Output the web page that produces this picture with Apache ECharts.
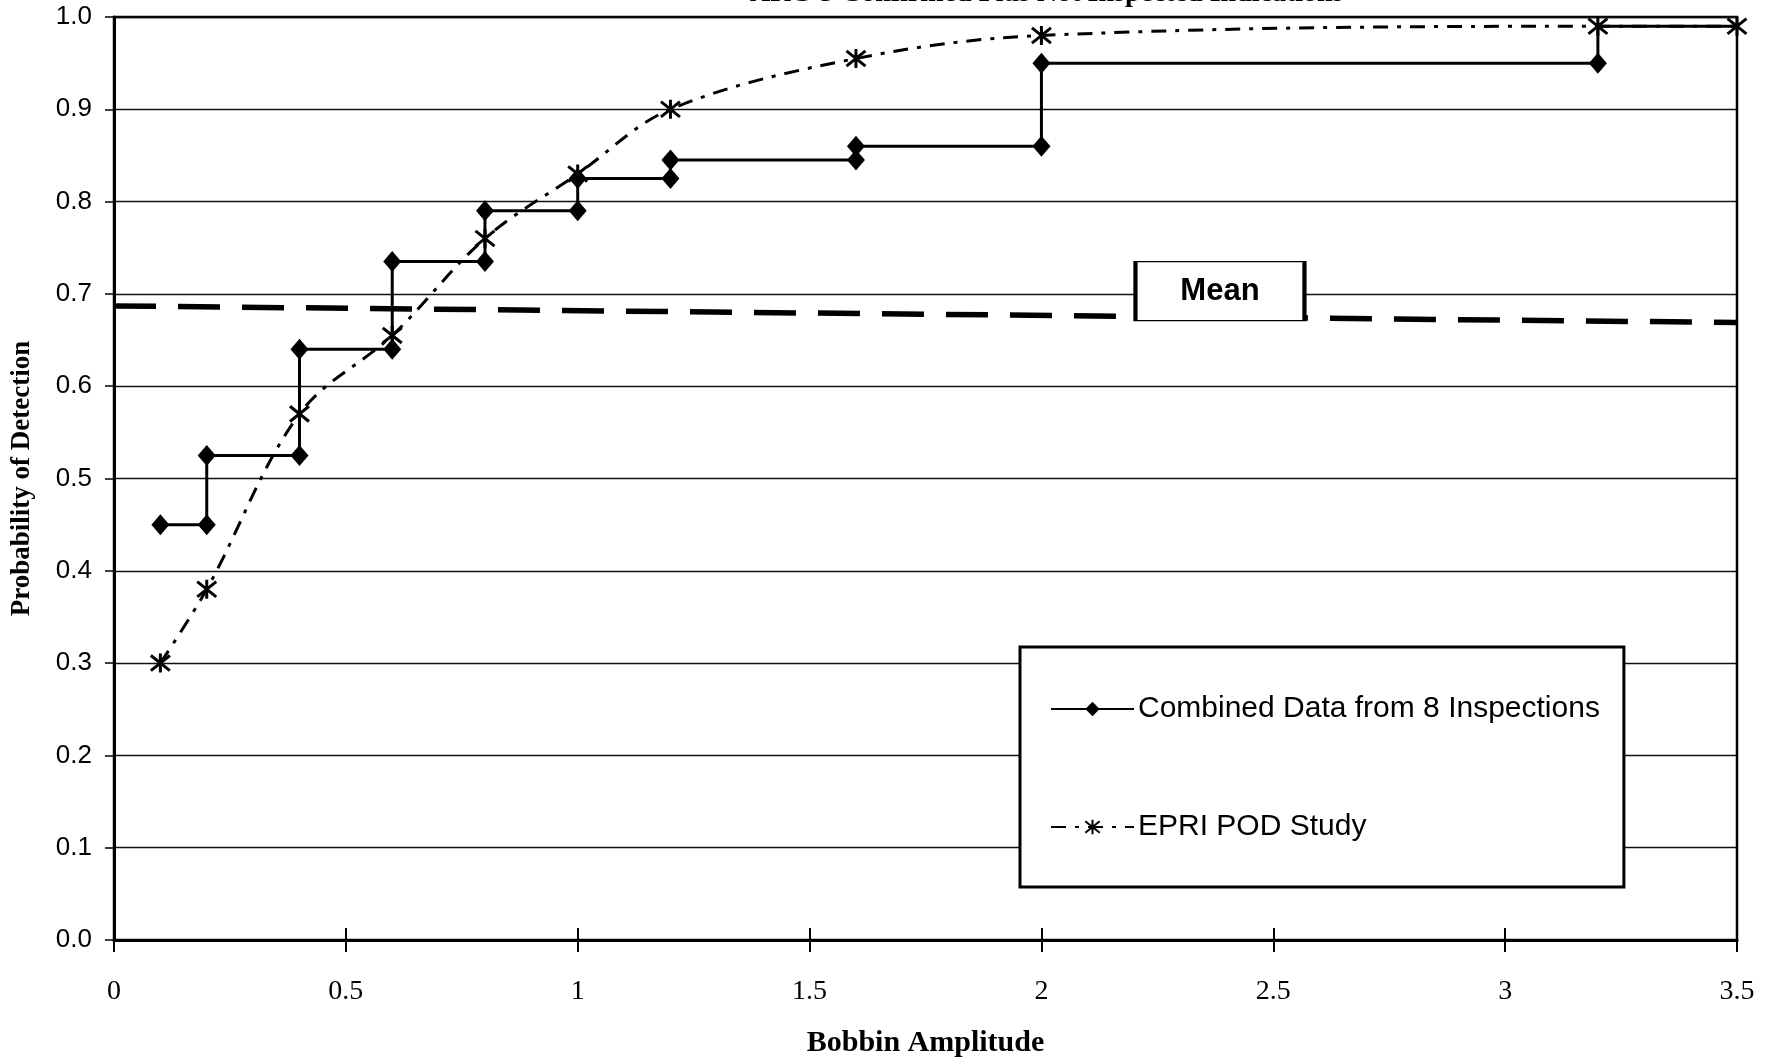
<!DOCTYPE html>
<html>
<head>
<meta charset="utf-8">
<script src="https://cdn.jsdelivr.net/npm/echarts@6/dist/echarts.min.js"></script>
<style>
  html, body { margin: 0; padding: 0; background: #fff; }
  #main { width: 1771px; height: 1064px; }
</style>
</head>
<body>
<div id="main"></div>
<script>
// step curve, combined inspections
var xCombined = [0.1, 0.2, 0.2, 0.4, 0.4, 0.6, 0.6, 0.8, 0.8, 1.0, 1.0, 1.2, 1.2, 1.6, 1.6, 2.0, 2.0, 3.2, 3.2, 3.5];
var yCombined = [0.45, 0.45, 0.525, 0.525, 0.64, 0.64, 0.735, 0.735, 0.79, 0.79, 0.825, 0.825, 0.845, 0.845, 0.86, 0.86, 0.95, 0.95, 0.99, 0.99];
// EPRI POD study
var xEpri = [0.1, 0.2, 0.4, 0.6, 0.8, 1.0, 1.2, 1.6, 2.0, 3.2, 3.5];
var yEpri = [0.30, 0.38, 0.57, 0.655, 0.76, 0.83, 0.90, 0.955, 0.98, 0.99, 0.99];
// mean line
var xMean = [0, 3.5];
var yMean = [0.687, 0.669];
var meanLabelPos = [2.385, 0.703];

var seriesNames = ['Combined Data from 8 Inspections', 'EPRI POD Study'];
var titleText = '\u2013 ARC-3 Confirmed Plus Not Inspected Indications';

var star = 'path://M1,1L9,9M9,1L1,9M5,0L5,10';

var chart = echarts.init(document.getElementById('main'));

var combinedData = xCombined.map(function (x, i) {
    var item = { value: [x, yCombined[i]] };
    if (i >= xCombined.length - 2) item.symbol = 'none';
    return item;
});
var epriData = xEpri.map(function (x, i) { return [x, yEpri[i]]; });
var meanData = xMean.map(function (x, i) { return [x, yMean[i]]; });

var xCommon = { type: 'value', min: 0, max: 3.5, interval: 0.5, gridIndex: 0 };

chart.setOption({
    animation: false,
    backgroundColor: '#fff',
    title: {
        text: titleText,
        left: 729,
        top: -20,
        padding: 0,
        textStyle: { fontFamily: 'Liberation Serif', fontWeight: 'bold', fontSize: 28, color: '#000' }
    },
    grid: {
        left: 114, right: 34, top: 17, bottom: 124,
        show: true, borderColor: '#000', borderWidth: 2.5
    },
    legend: {
        data: seriesNames,
        orient: 'vertical',
        left: 1020,
        top: 647,
        padding: [47, 24, 45, 30],
        itemGap: 88,
        itemWidth: 83,
        itemHeight: 18,
        backgroundColor: '#fff',
        borderColor: '#000',
        borderWidth: 3,
        borderRadius: 0,
        textStyle: { fontFamily: 'Liberation Sans', fontSize: 30, color: '#000', padding: [0, 0, 0, -1] }
    },
    xAxis: [
        Object.assign({}, xCommon, {
            name: 'Bobbin Amplitude',
            nameLocation: 'middle',
            nameGap: 88,
            nameTextStyle: { fontFamily: 'Liberation Serif', fontWeight: 'bold', fontSize: 30, color: '#000' },
            axisLine: { show: true, onZero: false, lineStyle: { color: '#000', width: 3 } },
            axisTick: { show: true, inside: false, length: 12, lineStyle: { color: '#000', width: 2 } },
            axisLabel: { margin: 38, fontFamily: 'Liberation Serif', fontSize: 28, color: '#000' },
            splitLine: { show: false }
        }),
        Object.assign({}, xCommon, {
            position: 'bottom',
            axisLine: { show: false, onZero: false },
            axisTick: { show: true, inside: true, length: 12, lineStyle: { color: '#000', width: 2 } },
            axisLabel: { show: false },
            splitLine: { show: false }
        })
    ],
    yAxis: {
        type: 'value',
        min: 0,
        max: 1,
        interval: 0.1,
        name: 'Probability of Detection',
        nameLocation: 'middle',
        nameGap: 78,
        nameTextStyle: { fontFamily: 'Liberation Serif', fontWeight: 'bold', fontSize: 27, color: '#000' },
        axisLine: { show: true, lineStyle: { color: '#000', width: 3 } },
        axisTick: { show: true, length: 9, lineStyle: { color: '#000', width: 1.5 } },
        axisLabel: {
            margin: 22, fontFamily: 'Liberation Sans', fontSize: 26, color: '#000',
            formatter: function (v) { return v.toFixed(1); }
        },
        splitLine: { show: true, lineStyle: { color: '#111', width: 1.3 } }
    },
    series: [
        {
            name: 'Mean',
            type: 'line',
            data: meanData,
            symbol: 'none',
            silent: true,
            z: 2,
            lineStyle: { color: '#000', width: 5.5, type: [42, 22] },
            markPoint: {
                symbol: 'rect',
                symbolSize: [169, 59],
                itemStyle: { color: '#fff', borderColor: '#000', borderWidth: 2.5 },
                label: {
                    show: true, formatter: 'Mean', position: 'inside',
                    fontFamily: 'Liberation Sans', fontWeight: 'bold', fontSize: 31, color: '#000'
                },
                data: [{ coord: meanLabelPos }]
            }
        },
        {
            name: seriesNames[1],
            type: 'line',
            data: epriData,
            smooth: 0.35,
            symbol: star,
            symbolSize: 19,
            z: 3,
            itemStyle: { color: '#000', borderColor: '#000', borderWidth: 3 },
            lineStyle: { color: '#000', width: 3, type: [15, 9, 4, 9] }
        },
        {
            name: seriesNames[0],
            type: 'line',
            data: combinedData,
            symbol: 'diamond',
            symbolSize: [18, 21],
            z: 4,
            itemStyle: { color: '#000', borderColor: '#000', borderWidth: 0 },
            lineStyle: { color: '#000', width: 3 }
        }
    ]
});
</script>
</body>
</html>
